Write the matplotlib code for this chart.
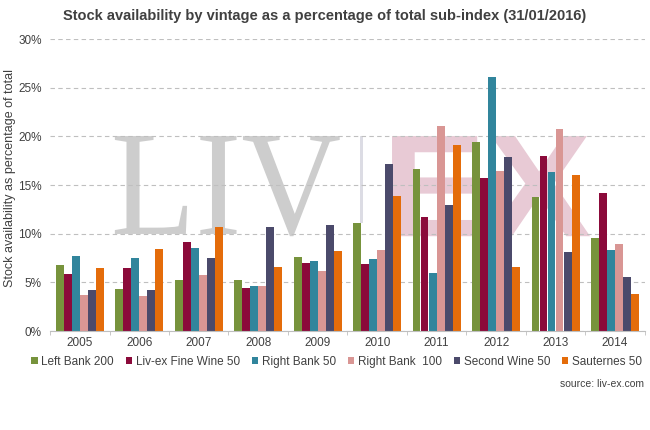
import matplotlib
matplotlib.use("Agg")
import matplotlib.pyplot as plt
import numpy as np
from matplotlib.ticker import FuncFormatter, MultipleLocator
from matplotlib.textpath import TextPath
from matplotlib.patches import PathPatch, Rectangle
from matplotlib.font_manager import FontProperties
from matplotlib.transforms import Affine2D

plt.rcParams['font.family'] = ['Liberation Sans', 'DejaVu Sans']

vintages = ["2005", "2006", "2007", "2008", "2009", "2010", "2011", "2012", "2013", "2014"]
series_names = ["Left Bank 200", "Liv-ex Fine Wine 50", "Right Bank 50",
                "Right Bank  100", "Second Wine 50", "Sauternes 50"]
left_bank_200 = [6.8, 4.3, 5.3, 5.2, 7.6, 11.1, 16.7, 19.4, 13.8, 9.6]
livex_fw_50 = [5.9, 6.5, 9.2, 4.4, 7.0, 6.9, 11.7, 15.7, 18.0, 14.2]
right_bank_50 = [7.7, 7.5, 8.5, 4.6, 7.2, 7.4, 6.0, 26.1, 16.3, 8.3]
right_bank_100 = [3.7, 3.6, 5.8, 4.6, 6.2, 8.3, 21.05, 16.5, 20.8, 8.9]
second_wine_50 = [4.25, 4.2, 7.5, 10.7, 10.9, 17.2, 13.0, 17.9, 8.1, 5.6]
sauternes_50 = [6.5, 8.4, 10.7, 6.6, 8.2, 13.9, 19.1, 6.6, 16.0, 3.8]
colors = ["#77933C", "#8B0A3A", "#31859C", "#D99694", "#4B4A6B", "#E46C0A"]

series = [left_bank_200, livex_fw_50, right_bank_50, right_bank_100, second_wine_50, sauternes_50]

fig = plt.figure(figsize=(6.5, 4.3), dpi=100)
ax = fig.add_axes([0.077, 0.230, 0.915, 0.679])


def watermark(text, family, weight, box, color):
    tp = TextPath((0, 0), text, size=1, prop=FontProperties(family=family, weight=weight))
    ext = tp.get_extents()
    x0, y0, x1, y1 = box
    tr = (Affine2D().translate(-ext.x0, -ext.y0)
          .scale((x1 - x0) / ext.width, (y1 - y0) / ext.height)
          .translate(x0, y0) + ax.transAxes)
    ax.add_patch(PathPatch(tp, transform=tr, facecolor=color, edgecolor="none", zorder=0))


watermark("LIV", "Liberation Serif", "normal", (0.109, 0.325, 0.487, 0.668), "#CDCDCD")
ax.add_patch(Rectangle((0.521, 0.370), 0.006, 0.298, transform=ax.transAxes,
                       facecolor="#DCDCE4", edgecolor="none", zorder=0))
watermark("EX", "Liberation Sans", "bold", (0.575, 0.325, 0.908, 0.668), "#E8CAD5")

x = np.arange(len(vintages))
n = len(series)
bw = 0.135
for i, (vals, name, c) in enumerate(zip(series, series_names, colors)):
    ax.bar(x + (i - (n - 1) / 2) * bw, vals, width=bw * 0.97, color=c, label=name, zorder=2)

ax.set_xlim(-0.5, len(vintages) - 0.5)
ax.set_ylim(0, 30)
ax.yaxis.set_major_locator(MultipleLocator(5))
ax.yaxis.set_major_formatter(FuncFormatter(lambda v, p: f"{int(v)}%"))
ax.grid(axis="y", color="#BFBFBF", linestyle=(0, (4, 3)), linewidth=0.8, zorder=1)
ax.set_xticks(x)
ax.set_xticklabels(vintages)
ax.set_xticks(np.arange(len(vintages) + 1) - 0.5, minor=True)
ax.tick_params(axis="x", which="major", length=0, labelsize=8.5, colors="#404040", pad=4)
ax.tick_params(axis="x", which="minor", length=3, color="#BFBFBF")
ax.tick_params(axis="y", length=0, labelsize=8.5, colors="#404040", pad=6)
for s in ["top", "right", "left"]:
    ax.spines[s].set_visible(False)
ax.spines["bottom"].set_color("#BFBFBF")

ax.set_ylabel("Stock availability as percentage of total", fontsize=9, color="#404040")
ax.yaxis.set_label_coords(-0.058, 0.525)
fig.text(0.5, 0.962, "Stock availability by vintage as a percentage of total sub-index (31/01/2016)",
         ha="center", va="center", fontsize=10.5, fontweight="bold", color="#404040")

leg = fig.legend(loc="center", bbox_to_anchor=(0.518, 0.158), ncol=6, frameon=False,
                 fontsize=8.5, handlelength=0.55, handleheight=0.55, handletextpad=0.3,
                 columnspacing=1.0)
for t in leg.get_texts():
    t.set_color("#404040")
fig.text(0.99, 0.108, "source: liv-ex.com", ha="right", va="center", fontsize=7.5, color="#404040")

fig.savefig("out.png", dpi=100)
